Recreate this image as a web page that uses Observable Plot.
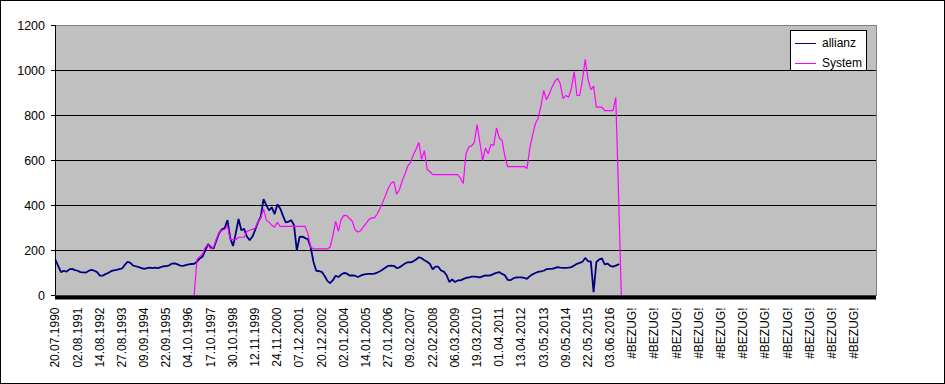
<!DOCTYPE html>
<html><head><meta charset="utf-8">
<script src="https://cdn.jsdelivr.net/npm/d3@7"></script>
<script src="https://cdn.jsdelivr.net/npm/@observablehq/plot@0.6"></script>
<style>
html,body{margin:0;padding:0;background:#fff;}
#wrap{position:relative;width:945px;height:384px;overflow:hidden;font-family:"Liberation Sans",Arial,sans-serif;}
#border{position:absolute;left:0;top:0;width:945px;height:384px;box-sizing:border-box;border:1px solid #000;pointer-events:none;}
#legend{position:absolute;left:790px;top:30px;width:77px;height:41px;box-sizing:border-box;border:1px solid #000;background:#fff;font-size:12px;color:#000;}
.item{position:absolute;left:4px;height:14px;display:flex;align-items:center;white-space:nowrap;}
.swatch{width:21px;height:0;border-top:1px solid;margin-right:6px;}
</style>
</head><body>
<div id="wrap"><div id="chart"></div><div id="legend"></div><div id="border"></div></div>
<script>
// category tick labels (one every 8 samples)
const tickLabels = ["20.07.1990","02.08.1991","14.08.1992","27.08.1993","09.09.1994","22.09.1995","04.10.1996","17.10.1997","30.10.1998","12.11.1999","24.11.2000","07.12.2001","20.12.2002","02.01.2004","14.01.2005","27.01.2006","09.02.2007","22.02.2008","06.03.2009","19.03.2010","01.04.2011","13.04.2012","03.05.2013","09.05.2014","22.05.2015","03.06.2016","#BEZUG!","#BEZUG!","#BEZUG!","#BEZUG!","#BEZUG!","#BEZUG!","#BEZUG!","#BEZUG!","#BEZUG!","#BEZUG!","#BEZUG!"];
const samplesPerLabel = 8;
const yTicks = [0,200,400,600,800,1000,1200];
const gridValues = [200,400,600,800,1000];
const seriesNames = ["allianz","System"];
const seriesColors = ["#000080","#ff00ff"];

// allianz, sampled from category 0
const allianz = [
158,130,104,110,106,116,118,113,110,104,
103,102,110,114,110,104,88,88,95,100,
108,112,114,117,120,136,150,145,133,130,
126,122,118,122,124,122,124,122,126,130,
131,134,142,143,138,133,132,135,138,140,
141,150,165,172,200,228,214,209,245,278,
294,300,335,255,220,276,340,290,296,262,
246,262,292,325,350,428,402,378,392,362,
405,387,355,325,328,335,312,200,260,262,
255,250,215,150,110,108,105,88,65,55,
68,88,82,93,100,98,89,89,88,82,
88,93,95,96,96,97,102,108,116,124,
132,133,132,122,125,133,142,148,147,152,
160,170,166,157,150,140,116,128,128,111,
106,90,60,72,60,67,67,73,78,80,
84,84,83,81,85,89,88,90,96,101,
104,96,90,70,68,76,80,81,81,78,
74,86,94,100,105,107,110,117,118,118,
122,126,124,123,123,124,126,133,141,145,
150,167,152,152,15,148,160,165,138,142,
132,128,133,138
];

// System, sampled from category systemStart
const systemStart = 50;
const system = [
0,160,172,186,215,225,207,215,250,280,
290,294,310,248,248,248,259,259,259,285,
290,294,300,325,345,385,335,326,312,303,
325,307,307,307,307,307,307,307,307,307,
307,275,215,207,207,207,207,207,207,215,
265,330,285,338,356,355,342,330,292,282,
288,305,320,338,345,345,363,388,415,445,
478,500,505,450,470,510,540,575,592,625,
650,680,605,644,560,550,537,537,537,537,
537,537,537,537,537,537,520,498,630,660,
665,680,760,680,600,655,630,672,667,745,
700,689,620,573,573,573,573,573,573,573,
565,655,712,763,788,840,911,870,895,926,
950,965,941,875,889,881,920,995,889,889,
960,1050,960,915,930,837,837,837,822,822,
822,822,880,452,0
];

const chart = Plot.plot({
  width: 945, height: 384,
  marginLeft: 55, marginRight: 69, marginTop: 25, marginBottom: 89,
  style: {fontFamily: "Liberation Sans, Arial, sans-serif", fontSize: "12px", background: "white", color: "black"},
  x: {domain: [0, tickLabels.length * samplesPerLabel], axis: null},
  y: {domain: [0, 1200], axis: null},
  marks: [
    Plot.frame({fill: "#c0c0c0"}),
    Plot.frame({stroke: "#808080"}),
    Plot.ruleY(gridValues, {stroke: "black"}),
    Plot.line(allianz, {x: (d, i) => i, y: d => d, stroke: seriesColors[0], strokeWidth: 1.8, strokeLinejoin: "miter"}),
    Plot.line(system, {x: (d, i) => i + systemStart, y: d => d, stroke: seriesColors[1], strokeWidth: 1.2, strokeLinejoin: "miter"}),
    Plot.ruleX([0], {stroke: "black"}),
    Plot.ruleY([0], {stroke: "black", strokeWidth: 4, dy: 2}),
    Plot.axisY({ticks: yTicks, tickSize: 4, tickPadding: 6.5, fontSize: 12.5, tickFormat: d => String(d)}),
    Plot.axisX({ticks: tickLabels.map((_, k) => k * samplesPerLabel), tickFormat: d => tickLabels[Math.round(d / samplesPerLabel)], tickRotate: -90, tickSize: 0, tickPadding: 12, fontSize: 12})
  ]
});
document.getElementById("chart").appendChild(chart);

const legend = document.getElementById("legend");
seriesNames.forEach((name, k) => {
  const item = document.createElement("div");
  item.className = "item";
  item.style.top = (5 + k * 20) + "px";
  const sw = document.createElement("span");
  sw.className = "swatch";
  sw.style.borderTopColor = seriesColors[k];
  item.appendChild(sw);
  item.appendChild(document.createTextNode(name));
  legend.appendChild(item);
});
</script>
</body></html>
